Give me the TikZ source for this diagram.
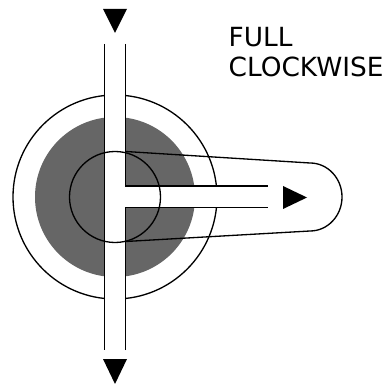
\documentclass[tikz,border=0pt]{standalone}
\usepackage{fontspec}
\setmainfont{DejaVu Sans}
\definecolor{knobgray}{HTML}{666666}
\begin{document}
\begin{tikzpicture}[x=0.02cm,y=-0.02cm,line width=0.75pt,
  marker/.style={fill=black,draw=none}]
 \useasboundingbox (0,0) rectangle (388,384);
 \coordinate (C) at (115,197);
 % dial
 \draw (C) circle (102);
 \fill[knobgray] (C) circle (80);
 % slot
 \fill[white] (104.5,44) rectangle (125.5,350);
 \fill[white] (125.5,186) rectangle (268,207.5);
 \draw (104.5,44) -- (104.5,350);
 \draw (125.5,44) -- (125.5,186) -- (268,186);
 \draw (125.5,350) -- (125.5,207.5) -- (268,207.5);
 % pointer
 \draw (C) circle (45.5);
 \draw (125.5,151.5) -- (310,163) arc[start angle=-90,end angle=90,x radius=32,y radius=34] -- (125.5,241.5);
 % markers
 \fill[marker] (103,9) -- (127,9) -- (115,33) -- cycle;
 \fill[marker] (103,359) -- (127,359) -- (115,384) -- cycle;
 \fill[marker] (283,186) -- (307,197.5) -- (283,209) -- cycle;
 \node[align=left,anchor=north west,inner sep=0pt,font=\fontsize{15pt}{17pt}\selectfont] (label) at (228,27) {FULL\\CLOCKWISE};
\end{tikzpicture}
\end{document}
